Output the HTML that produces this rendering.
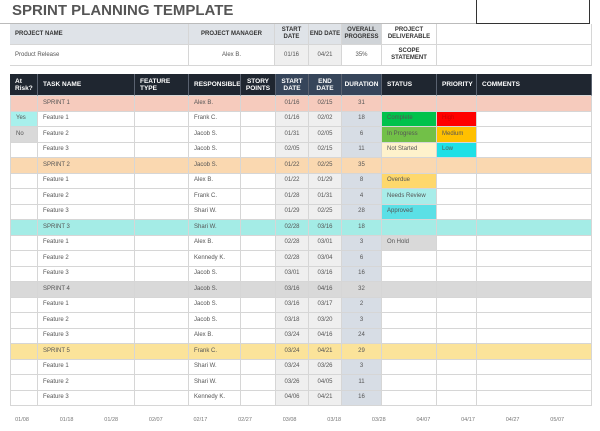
<!DOCTYPE html>
<html><head><meta charset="utf-8"><style>
body{margin:0;width:600px;height:431px;background:#fff;position:relative;overflow:hidden;font-family:"Liberation Sans",sans-serif}
.c{position:absolute;box-sizing:border-box;font-size:6px;color:#555;display:flex;align-items:center;padding-left:5px;border-right:1px solid #d6d6d6;border-bottom:1px solid #d6d6d6;overflow:hidden;line-height:7px}
.h{color:#fff;font-weight:bold;font-size:6.5px;background:#1f2630;border-right:1px solid #5a6270}
.ctr{justify-content:center;padding-left:0;text-align:center}
.lh{font-weight:bold;color:#333;background:#dfe3e8}
</style></head><body>
<div style="position:absolute;left:12px;top:2px;font-size:15px;font-weight:bold;color:#555">SPRINT PLANNING TEMPLATE</div>
<div style="position:absolute;left:476px;top:-2px;width:112px;height:24px;border:1.5px solid #333"></div>
<div style="position:absolute;left:0;top:23px;width:476px;border-top:1px solid #bbb"></div>
<div id="topTbl"></div>
<div id="main"></div>
<div id="axis"></div>
<script>
const colX=[10,38,135,189,241,276,309,342,382,437,477,592];
const headers=["At Risk?","TASK NAME","FEATURE TYPE","RESPONSIBLE","STORY POINTS","START DATE","END DATE","DURATION","STATUS","PRIORITY","COMMENTS"];
const risk=["","Yes","No","","","","","","","","","","","","","","","","",""];
const tasks=["SPRINT 1","Feature 1","Feature 2","Feature 3","SPRINT 2","Feature 1","Feature 2","Feature 3","SPRINT 3","Feature 1","Feature 2","Feature 3","SPRINT 4","Feature 1","Feature 2","Feature 3","SPRINT 5","Feature 1","Feature 2","Feature 3"];
const owners=["Alex B.","Frank C.","Jacob S.","Jacob S.","Jacob S.","Alex B.","Frank C.","Shari W.","Shari W.","Alex B.","Kennedy K.","Jacob S.","Jacob S.","Jacob S.","Jacob S.","Alex B.","Frank C.","Shari W.","Shari W.","Kennedy K."];
const starts=["01/16","01/16","01/31","02/05","01/22","01/22","01/28","01/29","02/28","02/28","02/28","03/01","03/16","03/16","03/18","03/24","03/24","03/24","03/26","04/06"];
const ends=["02/15","02/02","02/05","02/15","02/25","01/29","01/31","02/25","03/16","03/01","03/04","03/16","04/16","03/17","03/20","04/16","04/21","03/26","04/05","04/21"];
const durations=[31,18,6,11,35,8,4,28,18,3,6,16,32,2,3,24,29,3,11,16];
const statuses=["","Complete","In Progress","Not Started","","Overdue","Needs Review","Approved","","On Hold","","","","","","","","","",""];
const priorities=["","High","Medium","Low","","","","","","","","","","","","","","","",""];
const sprintColors={"SPRINT 1":"#f6cbbd","SPRINT 2":"#fad8b0","SPRINT 3":"#a4ece6","SPRINT 4":"#d9d9d9","SPRINT 5":"#fbe39a"};
const statusColors={"Complete":"#00c24c","In Progress":"#72c048","Not Started":"#fef2cc","Overdue":"#fed86c","Needs Review":"#a8ede9","Approved":"#5be0e6","On Hold":"#d9d9d9"};
const prioColors={"High":"#ff0000","Medium":"#ffc000","Low":"#1fe0e6"};
const axisLabels=["01/08","01/18","01/28","02/07","02/17","02/27","03/08","03/18","03/28","04/07","04/17","04/27","05/07"];
function cell(parent,x,y,w,h,txt,cls,bg,name){
  const d=document.createElement('div');
  d.className='c '+(cls||'');
  d.style.left=x+'px';d.style.top=y+'px';d.style.width=w+'px';d.style.height=h+'px';
  if(bg)d.style.background=bg;
  d.textContent=txt;
  
  
  parent.appendChild(d);return d;
}
const topTbl=document.getElementById('topTbl');
const tx=[10,189,275,309,342,382,437,592];
const th=["PROJECT NAME","PROJECT MANAGER","START DATE","END DATE","OVERALL PROGRESS","PROJECT DELIVERABLE",""];
const tv=["Product Release","Alex B.","01/16","04/21","35%","SCOPE STATEMENT",""];
for(let i=0;i<7;i++){
  const w=tx[i+1]-tx[i];
  const h=cell(topTbl,tx[i],24,w,21,th[i],(i>=1&&i<=5?'ctr ':'')+(i<6?'lh':''),i==6?'#fff':(i==4?'#d0d4d8':'#dfe3e8'),'project-header-'+i);
  if(i==5){h.style.background='#fff';}
  const v=cell(topTbl,tx[i],45,w,21,tv[i],i>=1?'ctr':'',i==2||i==3?'#efefef':'#fff','project-value-'+i);
  if(i==5){v.style.fontWeight='bold';v.style.color='#333';}
}
const mainTbl=document.getElementById('main');
const HY=74,HH=22,RH=15.5;
for(let c=0;c<11;c++){
  const w=colX[c+1]-colX[c];
  cell(mainTbl,colX[c],HY,w,HH,headers[c],'h'+(c>=4&&c<=7?' ctr':''),(c>=5&&c<=7)?'#36455a':'#1f2630','header-'+headers[c].toLowerCase().replace(/[^a-z]+/g,'-'));
}
for(let r=0;r<tasks.length;r++){
  const y=HY+HH+r*RH;
  const sc=sprintColors[tasks[r]];
  const vals=[risk[r],tasks[r],"",owners[r],"",starts[r],ends[r],String(durations[r]),statuses[r],priorities[r],""];
  for(let c=0;c<11;c++){
    const w=colX[c+1]-colX[c];
    let bg=sc||'#fff';
    if(!sc){
      if(c==5||c==6)bg='#efefef';
      if(c==0&&risk[r]=='Yes')bg='#a8f0ec';
      if(c==0&&risk[r]=='No')bg='#d9d9d9';
      if(c==7)bg='#d7dde5';
    }
    if(c==8&&statuses[r])bg=statusColors[statuses[r]];
    if(c==9&&priorities[r])bg=prioColors[priorities[r]];
    const d=cell(mainTbl,colX[c],y,w,RH,vals[c],(c>=5&&c<=7)?'ctr':'',bg,'row-'+(r+1)+'-'+headers[c].toLowerCase().replace(/[^a-z]+/g,'-'));
    if(c==0)d.style.borderLeft='1px solid #d6d6d6';
    if(c==9&&priorities[r]=='High')d.style.color='#c00';
  }
}
const axisEl=document.getElementById('axis');
axisLabels.forEach((t,i)=>{
  const d=document.createElement('div');
  d.style.cssText='position:absolute;top:417px;font-size:5.5px;color:#777;width:30px;text-align:center;left:'+(7+i*44.6)+'px';
  d.textContent=t;
  
  
  axisEl.appendChild(d);
});
</script>
</body></html>
